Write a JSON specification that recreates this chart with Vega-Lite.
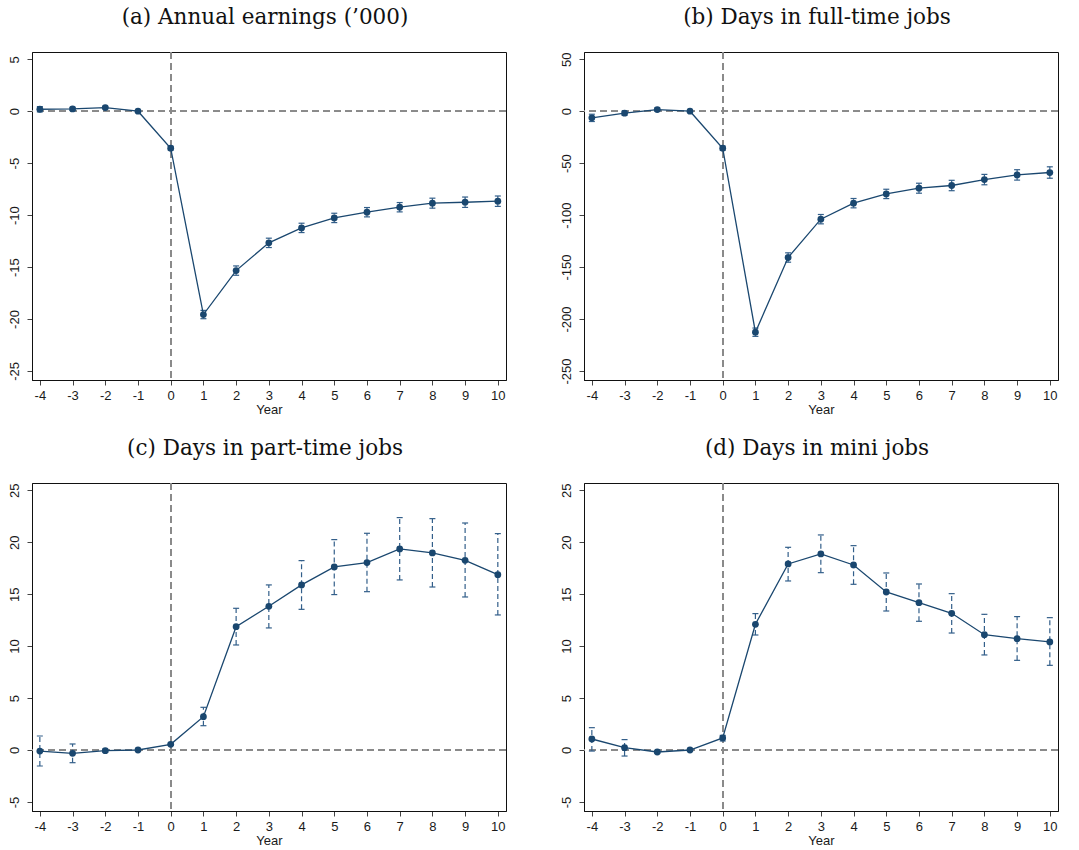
{
  "$schema": "https://vega.github.io/schema/vega-lite/v6.json",
  "background": "white",
  "padding": {"left": 7, "top": 6, "right": 14, "bottom": 5},
  "config": {
    "view": {"stroke": "#111111", "strokeWidth": 1},
    "axis": {"grid": false, "domainColor": "#111111", "tickColor": "#444444", "tickSize": 5, "labelFont": "Liberation Sans", "labelFontSize": 13, "labelColor": "#1a1a1a", "titleFont": "Liberation Sans", "titleFontSize": 13, "titleFontWeight": "normal", "titleColor": "#1a1a1a"},
    "axisX": {"labelOverlap": false, "labelFlush": false},
    "title": {"font": "DejaVu Serif", "fontSize": 21.5, "fontWeight": "normal", "color": "#111111", "anchor": "middle", "frame": "group", "baseline": "alphabetic", "offset": 23, "dx": -4}
  },
  "datasets": {
    "pts": [
      {"p": "a", "year": -4, "est": 0.19, "lo": -0.06, "hi": 0.44},
      {"p": "a", "year": -3, "est": 0.22, "lo": 0.07, "hi": 0.37},
      {"p": "a", "year": -2, "est": 0.35, "lo": 0.23, "hi": 0.47},
      {"p": "a", "year": -1, "est": 0, "lo": 0, "hi": 0},
      {"p": "a", "year": 0, "est": -3.56, "lo": -3.74, "hi": -3.38},
      {"p": "a", "year": 1, "est": -19.57, "lo": -19.97, "hi": -19.17},
      {"p": "a", "year": 2, "est": -15.34, "lo": -15.79, "hi": -14.89},
      {"p": "a", "year": 3, "est": -12.67, "lo": -13.12, "hi": -12.22},
      {"p": "a", "year": 4, "est": -11.23, "lo": -11.68, "hi": -10.78},
      {"p": "a", "year": 5, "est": -10.27, "lo": -10.72, "hi": -9.82},
      {"p": "a", "year": 6, "est": -9.72, "lo": -10.17, "hi": -9.27},
      {"p": "a", "year": 7, "est": -9.24, "lo": -9.69, "hi": -8.79},
      {"p": "a", "year": 8, "est": -8.85, "lo": -9.33, "hi": -8.37},
      {"p": "a", "year": 9, "est": -8.76, "lo": -9.26, "hi": -8.26},
      {"p": "a", "year": 10, "est": -8.66, "lo": -9.16, "hi": -8.16},
      {"p": "b", "year": -4, "est": -6.4, "lo": -9.9, "hi": -2.9},
      {"p": "b", "year": -3, "est": -1.9, "lo": -3.9, "hi": 0.1},
      {"p": "b", "year": -2, "est": 1.6, "lo": 0.1, "hi": 3.1},
      {"p": "b", "year": -1, "est": 0, "lo": 0, "hi": 0},
      {"p": "b", "year": 0, "est": -35.6, "lo": -37.6, "hi": -33.6},
      {"p": "b", "year": 1, "est": -212.7, "lo": -216.7, "hi": -208.7},
      {"p": "b", "year": 2, "est": -140.8, "lo": -145.3, "hi": -136.3},
      {"p": "b", "year": 3, "est": -103.9, "lo": -108.4, "hi": -99.4},
      {"p": "b", "year": 4, "est": -88.5, "lo": -93.0, "hi": -84.0},
      {"p": "b", "year": 5, "est": -79.6, "lo": -84.1, "hi": -75.1},
      {"p": "b", "year": 6, "est": -74.1, "lo": -78.9, "hi": -69.3},
      {"p": "b", "year": 7, "est": -71.5, "lo": -76.5, "hi": -66.5},
      {"p": "b", "year": 8, "est": -65.8, "lo": -70.8, "hi": -60.8},
      {"p": "b", "year": 9, "est": -61.3, "lo": -66.3, "hi": -56.3},
      {"p": "b", "year": 10, "est": -59.0, "lo": -64.5, "hi": -53.5},
      {"p": "c", "year": -4, "est": -0.1, "lo": -1.54, "hi": 1.35},
      {"p": "c", "year": -3, "est": -0.32, "lo": -1.22, "hi": 0.58},
      {"p": "c", "year": -2, "est": -0.06, "lo": -0.2, "hi": 0.08},
      {"p": "c", "year": -1, "est": 0, "lo": 0, "hi": 0},
      {"p": "c", "year": 0, "est": 0.55, "lo": 0.45, "hi": 0.65},
      {"p": "c", "year": 1, "est": 3.21, "lo": 2.34, "hi": 4.11},
      {"p": "c", "year": 2, "est": 11.87, "lo": 10.11, "hi": 13.64},
      {"p": "c", "year": 3, "est": 13.83, "lo": 11.75, "hi": 15.89},
      {"p": "c", "year": 4, "est": 15.89, "lo": 13.54, "hi": 18.23},
      {"p": "c", "year": 5, "est": 17.62, "lo": 14.96, "hi": 20.25},
      {"p": "c", "year": 6, "est": 18.04, "lo": 15.24, "hi": 20.86},
      {"p": "c", "year": 7, "est": 19.35, "lo": 16.37, "hi": 22.37},
      {"p": "c", "year": 8, "est": 18.97, "lo": 15.69, "hi": 22.27},
      {"p": "c", "year": 9, "est": 18.26, "lo": 14.73, "hi": 21.85},
      {"p": "c", "year": 10, "est": 16.88, "lo": 13.0, "hi": 20.83},
      {"p": "d", "year": -4, "est": 1.06, "lo": -0.1, "hi": 2.15},
      {"p": "d", "year": -3, "est": 0.22, "lo": -0.58, "hi": 1.0},
      {"p": "d", "year": -2, "est": -0.19, "lo": -0.3, "hi": -0.08},
      {"p": "d", "year": -1, "est": 0, "lo": 0, "hi": 0},
      {"p": "d", "year": 0, "est": 1.16, "lo": 0.87, "hi": 1.41},
      {"p": "d", "year": 1, "est": 12.1, "lo": 11.07, "hi": 13.13},
      {"p": "d", "year": 2, "est": 17.91, "lo": 16.27, "hi": 19.51},
      {"p": "d", "year": 3, "est": 18.87, "lo": 17.07, "hi": 20.7},
      {"p": "d", "year": 4, "est": 17.81, "lo": 15.95, "hi": 19.67},
      {"p": "d", "year": 5, "est": 15.21, "lo": 13.38, "hi": 17.04},
      {"p": "d", "year": 6, "est": 14.18, "lo": 12.39, "hi": 15.98},
      {"p": "d", "year": 7, "est": 13.16, "lo": 11.26, "hi": 15.05},
      {"p": "d", "year": 8, "est": 11.1, "lo": 9.15, "hi": 13.06},
      {"p": "d", "year": 9, "est": 10.72, "lo": 8.63, "hi": 12.84},
      {"p": "d", "year": 10, "est": 10.4, "lo": 8.15, "hi": 12.74}
    ]
  },
  "data": {"name": "pts"},
  "columns": 2,
  "spacing": {"row": 103, "column": 78},
  "bounds": "flush",
  "concat": [
    {
      "title": "(a) Annual earnings (’000)",
      "width": 474, "height": 328,
      "transform": [{"filter": "datum.p == 'a'"}],
      "layer": [
        {"mark": {"type": "rule", "color": "#8a8a8a", "strokeDash": [7, 4], "strokeWidth": 1.1}, "encoding": {"y": {"datum": 0, "type": "quantitative", "scale": {"domain": [-25.87, 5.7], "nice": false, "zero": false}, "axis": {"values": [-25, -20, -15, -10, -5, 0, 5], "tickCount": 20, "labelExpr": "'' + datum.value", "labelAngle": -90, "labelAlign": "center", "labelBaseline": "bottom", "labelPadding": 6, "labelOverlap": false, "title": null}}}},
        {"mark": {"type": "rule", "color": "#8a8a8a", "strokeDash": [7, 4], "strokeWidth": 1.1}, "encoding": {"x": {"datum": 0, "type": "quantitative", "scale": {"domain": [-4.24, 10.25], "nice": false, "zero": false}, "axis": {"values": [-4, -3, -2, -1, 0, 1, 2, 3, 4, 5, 6, 7, 8, 9, 10], "tickCount": 20, "labelExpr": "'' + datum.value", "labelOverlap": false, "labelFlush": false, "labelPadding": 4, "title": "Year", "titlePadding": 1}}}},
        {"mark": {"type": "rule", "color": "#335f8a", "strokeDash": [5, 3], "strokeWidth": 1.2}, "encoding": {"x": {"field": "year", "type": "quantitative"}, "y": {"field": "lo", "type": "quantitative"}, "y2": {"field": "hi"}}},
        {"mark": {"type": "tick", "orient": "horizontal", "color": "#335f8a", "size": 6, "thickness": 1.2, "opacity": 1}, "encoding": {"x": {"field": "year", "type": "quantitative"}, "y": {"field": "lo", "type": "quantitative"}}},
        {"mark": {"type": "tick", "orient": "horizontal", "color": "#335f8a", "size": 6, "thickness": 1.2, "opacity": 1}, "encoding": {"x": {"field": "year", "type": "quantitative"}, "y": {"field": "hi", "type": "quantitative"}}},
        {"mark": {"type": "line", "color": "#1a476f", "strokeWidth": 1.3}, "encoding": {"x": {"field": "year", "type": "quantitative"}, "y": {"field": "est", "type": "quantitative"}}},
        {"mark": {"type": "point", "filled": true, "color": "#1a476f", "size": 46, "opacity": 1}, "encoding": {"x": {"field": "year", "type": "quantitative"}, "y": {"field": "est", "type": "quantitative"}}}
      ]
    },
    {
      "title": "(b) Days in full-time jobs",
      "width": 474, "height": 328,
      "transform": [{"filter": "datum.p == 'b'"}],
      "layer": [
        {"mark": {"type": "rule", "color": "#8a8a8a", "strokeDash": [7, 4], "strokeWidth": 1.1}, "encoding": {"y": {"datum": 0, "type": "quantitative", "scale": {"domain": [-258.7, 57], "nice": false, "zero": false}, "axis": {"values": [-250, -200, -150, -100, -50, 0, 50], "tickCount": 20, "labelExpr": "'' + datum.value", "labelAngle": -90, "labelAlign": "center", "labelBaseline": "bottom", "labelPadding": 6, "labelOverlap": false, "title": null}}}},
        {"mark": {"type": "rule", "color": "#8a8a8a", "strokeDash": [7, 4], "strokeWidth": 1.1}, "encoding": {"x": {"datum": 0, "type": "quantitative", "scale": {"domain": [-4.24, 10.25], "nice": false, "zero": false}, "axis": {"values": [-4, -3, -2, -1, 0, 1, 2, 3, 4, 5, 6, 7, 8, 9, 10], "tickCount": 20, "labelExpr": "'' + datum.value", "labelOverlap": false, "labelFlush": false, "labelPadding": 4, "title": "Year", "titlePadding": 1}}}},
        {"mark": {"type": "rule", "color": "#335f8a", "strokeDash": [5, 3], "strokeWidth": 1.2}, "encoding": {"x": {"field": "year", "type": "quantitative"}, "y": {"field": "lo", "type": "quantitative"}, "y2": {"field": "hi"}}},
        {"mark": {"type": "tick", "orient": "horizontal", "color": "#335f8a", "size": 6, "thickness": 1.2, "opacity": 1}, "encoding": {"x": {"field": "year", "type": "quantitative"}, "y": {"field": "lo", "type": "quantitative"}}},
        {"mark": {"type": "tick", "orient": "horizontal", "color": "#335f8a", "size": 6, "thickness": 1.2, "opacity": 1}, "encoding": {"x": {"field": "year", "type": "quantitative"}, "y": {"field": "hi", "type": "quantitative"}}},
        {"mark": {"type": "line", "color": "#1a476f", "strokeWidth": 1.3}, "encoding": {"x": {"field": "year", "type": "quantitative"}, "y": {"field": "est", "type": "quantitative"}}},
        {"mark": {"type": "point", "filled": true, "color": "#1a476f", "size": 46, "opacity": 1}, "encoding": {"x": {"field": "year", "type": "quantitative"}, "y": {"field": "est", "type": "quantitative"}}}
      ]
    },
    {
      "title": "(c) Days in part-time jobs",
      "width": 474, "height": 328,
      "transform": [{"filter": "datum.p == 'c'"}],
      "layer": [
        {"mark": {"type": "rule", "color": "#8a8a8a", "strokeDash": [7, 4], "strokeWidth": 1.1}, "encoding": {"y": {"datum": 0, "type": "quantitative", "scale": {"domain": [-5.87, 25.7], "nice": false, "zero": false}, "axis": {"values": [-5, 0, 5, 10, 15, 20, 25], "tickCount": 20, "labelExpr": "'' + datum.value", "labelAngle": -90, "labelAlign": "center", "labelBaseline": "bottom", "labelPadding": 6, "labelOverlap": false, "title": null}}}},
        {"mark": {"type": "rule", "color": "#8a8a8a", "strokeDash": [7, 4], "strokeWidth": 1.1}, "encoding": {"x": {"datum": 0, "type": "quantitative", "scale": {"domain": [-4.24, 10.25], "nice": false, "zero": false}, "axis": {"values": [-4, -3, -2, -1, 0, 1, 2, 3, 4, 5, 6, 7, 8, 9, 10], "tickCount": 20, "labelExpr": "'' + datum.value", "labelOverlap": false, "labelFlush": false, "labelPadding": 4, "title": "Year", "titlePadding": 1}}}},
        {"mark": {"type": "rule", "color": "#335f8a", "strokeDash": [5, 3], "strokeWidth": 1.2}, "encoding": {"x": {"field": "year", "type": "quantitative"}, "y": {"field": "lo", "type": "quantitative"}, "y2": {"field": "hi"}}},
        {"mark": {"type": "tick", "orient": "horizontal", "color": "#335f8a", "size": 6, "thickness": 1.2, "opacity": 1}, "encoding": {"x": {"field": "year", "type": "quantitative"}, "y": {"field": "lo", "type": "quantitative"}}},
        {"mark": {"type": "tick", "orient": "horizontal", "color": "#335f8a", "size": 6, "thickness": 1.2, "opacity": 1}, "encoding": {"x": {"field": "year", "type": "quantitative"}, "y": {"field": "hi", "type": "quantitative"}}},
        {"mark": {"type": "line", "color": "#1a476f", "strokeWidth": 1.3}, "encoding": {"x": {"field": "year", "type": "quantitative"}, "y": {"field": "est", "type": "quantitative"}}},
        {"mark": {"type": "point", "filled": true, "color": "#1a476f", "size": 46, "opacity": 1}, "encoding": {"x": {"field": "year", "type": "quantitative"}, "y": {"field": "est", "type": "quantitative"}}}
      ]
    },
    {
      "title": "(d) Days in mini jobs",
      "width": 474, "height": 328,
      "transform": [{"filter": "datum.p == 'd'"}],
      "layer": [
        {"mark": {"type": "rule", "color": "#8a8a8a", "strokeDash": [7, 4], "strokeWidth": 1.1}, "encoding": {"y": {"datum": 0, "type": "quantitative", "scale": {"domain": [-5.87, 25.7], "nice": false, "zero": false}, "axis": {"values": [-5, 0, 5, 10, 15, 20, 25], "tickCount": 20, "labelExpr": "'' + datum.value", "labelAngle": -90, "labelAlign": "center", "labelBaseline": "bottom", "labelPadding": 6, "labelOverlap": false, "title": null}}}},
        {"mark": {"type": "rule", "color": "#8a8a8a", "strokeDash": [7, 4], "strokeWidth": 1.1}, "encoding": {"x": {"datum": 0, "type": "quantitative", "scale": {"domain": [-4.24, 10.25], "nice": false, "zero": false}, "axis": {"values": [-4, -3, -2, -1, 0, 1, 2, 3, 4, 5, 6, 7, 8, 9, 10], "tickCount": 20, "labelExpr": "'' + datum.value", "labelOverlap": false, "labelFlush": false, "labelPadding": 4, "title": "Year", "titlePadding": 1}}}},
        {"mark": {"type": "rule", "color": "#335f8a", "strokeDash": [5, 3], "strokeWidth": 1.2}, "encoding": {"x": {"field": "year", "type": "quantitative"}, "y": {"field": "lo", "type": "quantitative"}, "y2": {"field": "hi"}}},
        {"mark": {"type": "tick", "orient": "horizontal", "color": "#335f8a", "size": 6, "thickness": 1.2, "opacity": 1}, "encoding": {"x": {"field": "year", "type": "quantitative"}, "y": {"field": "lo", "type": "quantitative"}}},
        {"mark": {"type": "tick", "orient": "horizontal", "color": "#335f8a", "size": 6, "thickness": 1.2, "opacity": 1}, "encoding": {"x": {"field": "year", "type": "quantitative"}, "y": {"field": "hi", "type": "quantitative"}}},
        {"mark": {"type": "line", "color": "#1a476f", "strokeWidth": 1.3}, "encoding": {"x": {"field": "year", "type": "quantitative"}, "y": {"field": "est", "type": "quantitative"}}},
        {"mark": {"type": "point", "filled": true, "color": "#1a476f", "size": 46, "opacity": 1}, "encoding": {"x": {"field": "year", "type": "quantitative"}, "y": {"field": "est", "type": "quantitative"}}}
      ]
    }
  ]
}
